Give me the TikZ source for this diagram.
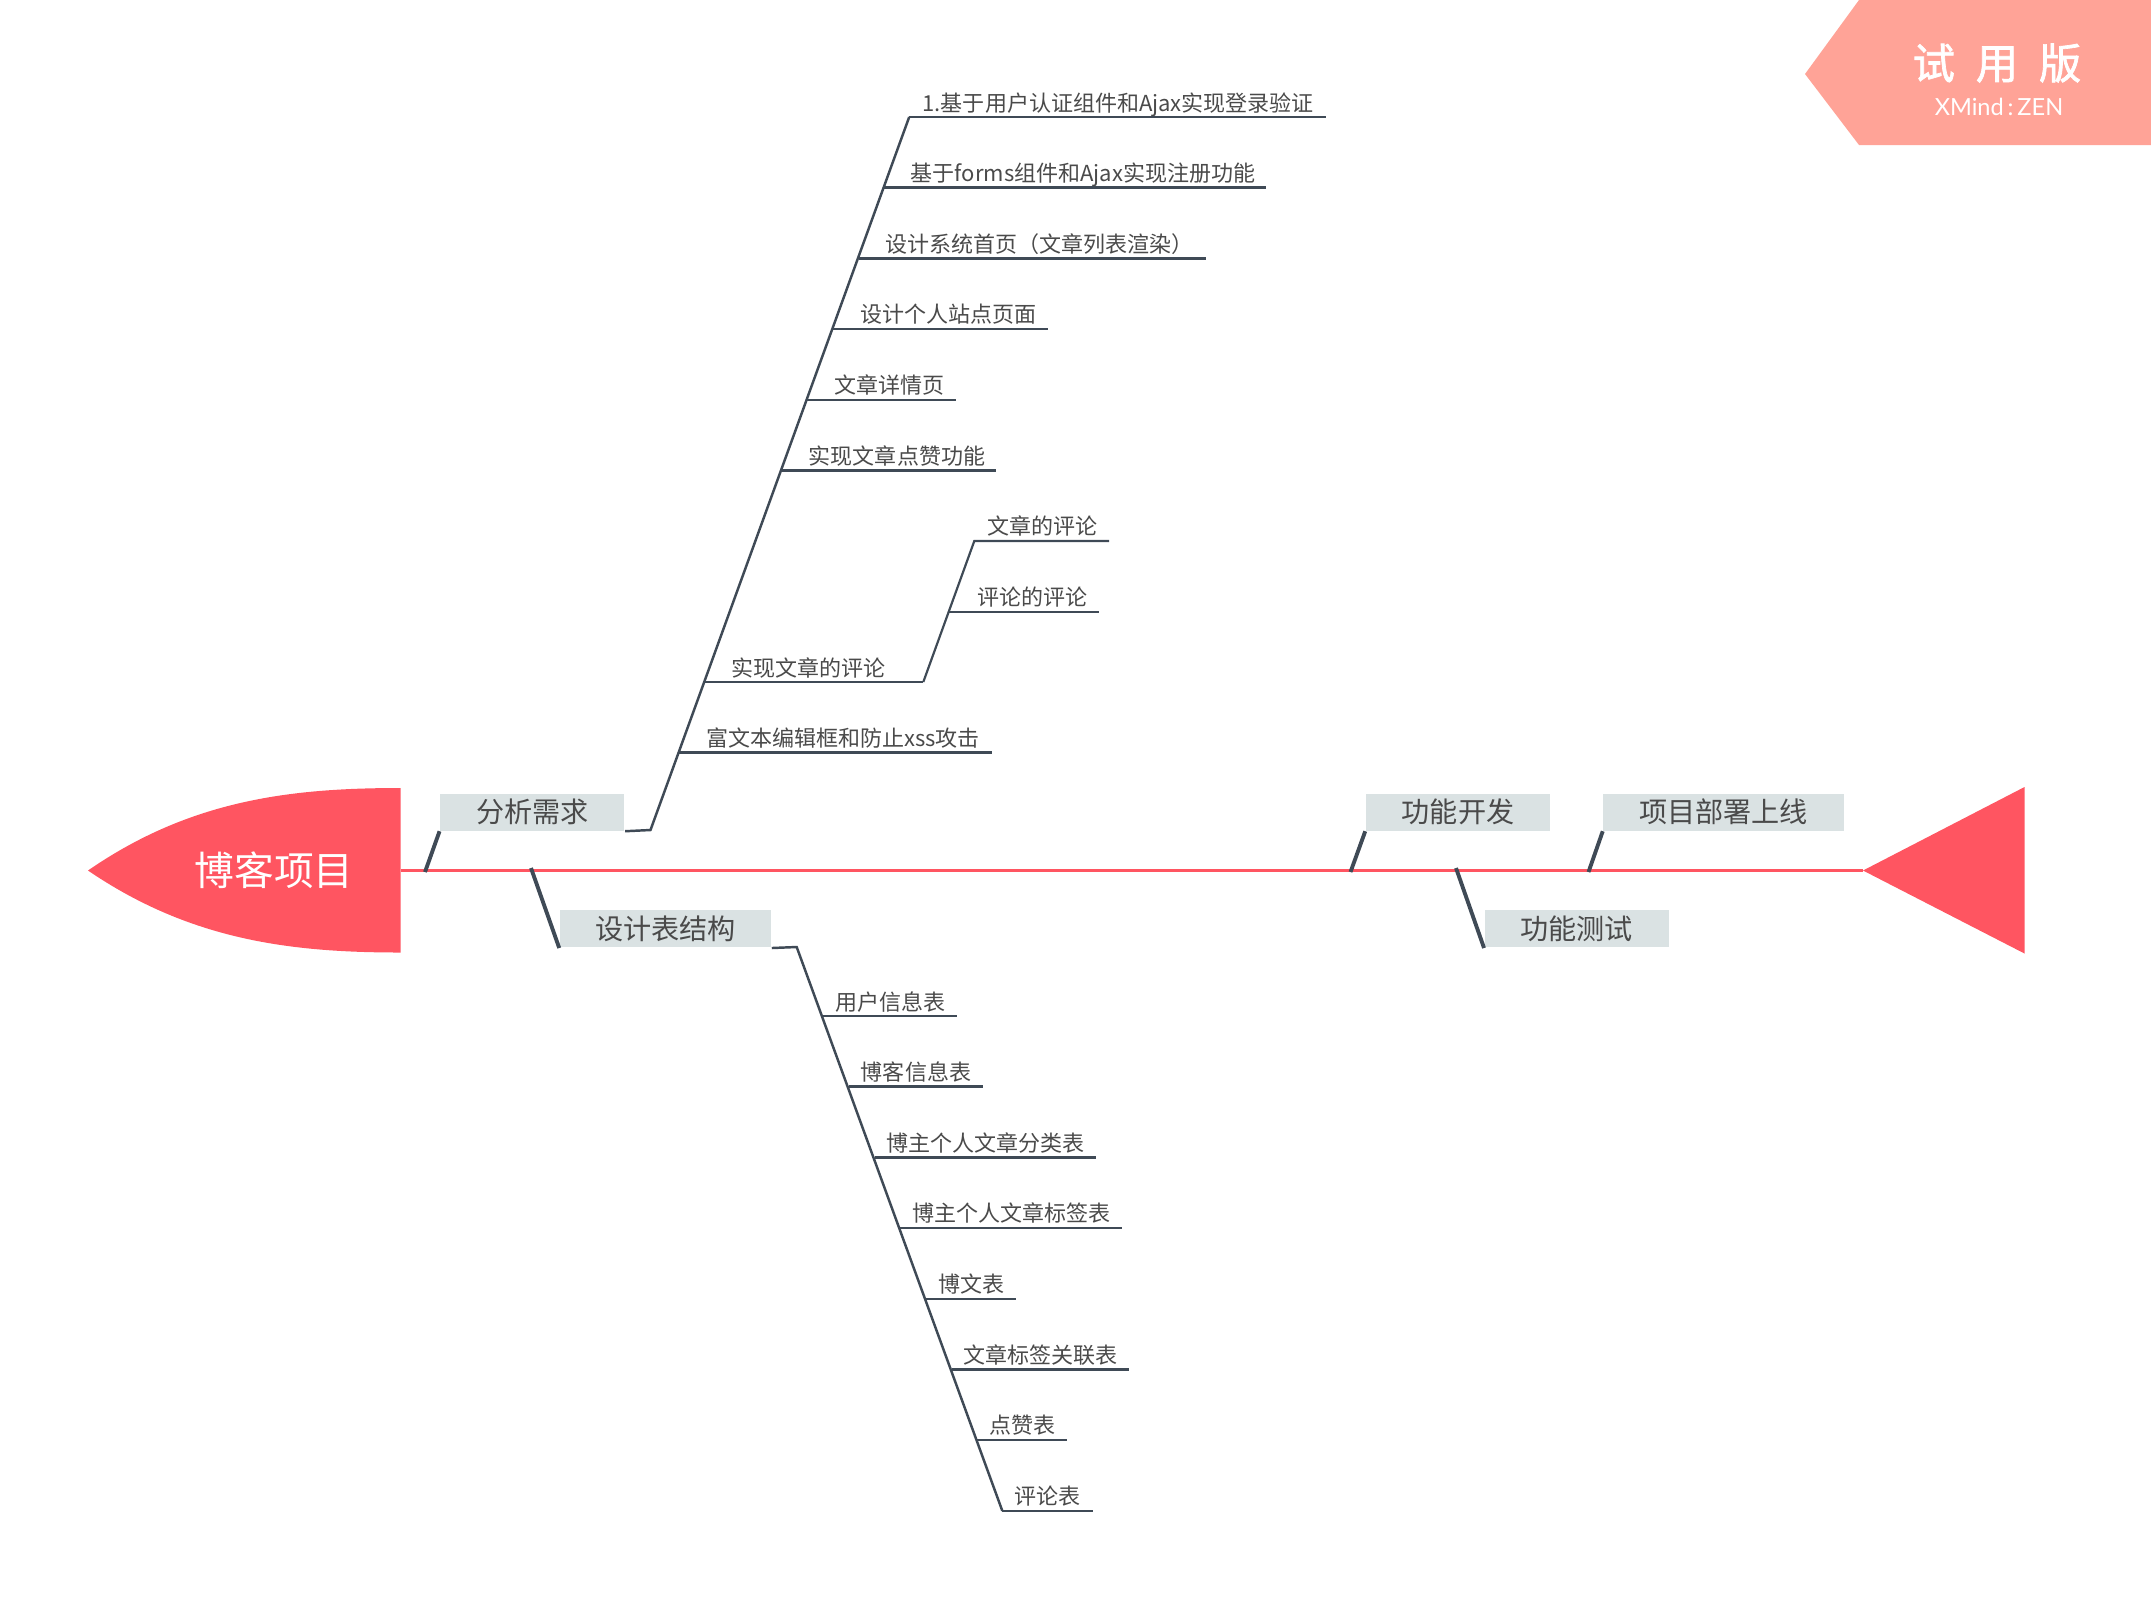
\documentclass[tikz,border=0pt]{standalone}
\usepackage{fontspec}
\setmainfont{Noto Sans CJK SC}
\newfontfamily\markfont{Lato}
\newfontfamily\markcjk[FakeBold=1.6]{Noto Sans CJK SC}
\definecolor{headred}{HTML}{FF5561}
\definecolor{markred}{HTML}{FFA397}
\definecolor{boxgray}{HTML}{DAE2E3}
\definecolor{linegray}{HTML}{3F4A56}
\definecolor{textgray}{HTML}{4A4A4A}
\tikzset{
  topic/.style={fill=boxgray, text=textgray, inner sep=0pt, minimum height=.37cm, font=\fontsize{8}{9}\selectfont},
  leaf/.style={text=textgray, inner sep=0pt, text height=.17cm, text depth=0cm, font=\fontsize{6.26}{8}\selectfont},
  bone/.style={draw=linegray, line width=1.1pt},
  rib/.style={draw=linegray, line width=.7pt, line join=miter},
  twig/.style={draw=linegray, line width=.62pt},
}
\begin{document}
\begin{tikzpicture}[x=.01cm,y=-.01cm]
\useasboundingbox (0,0) rectangle (2151,1599);
% trial mark
\fill[markred] (1859,0) -- (2151,0) -- (2151,145) -- (1859,145) -- (1805,74) -- cycle;
\node[text=white, inner sep=0pt, font=\markcjk\fontsize{12}{14}\selectfont] (marktop) at (1997,63) {试\hspace{.21cm}用\hspace{.21cm}版};
\node[text=white, inner sep=0pt, font=\markfont\fontsize{6.7}{8}\selectfont] (markbot) at (1999,106.5) {XMind\,:\,ZEN};
% head and tail
\fill[headred] (88,870.5) .. controls (190,800) and (290,788) .. (400.5,788) -- (400.5,952.5)
	.. controls (290,952.5) and (190,940) .. (88,870.5) -- cycle;
\fill[headred] (1863,870.5) -- (2024.5,787) -- (2024.5,953.5) -- cycle;
\node[text=white, inner sep=0pt, font=\fontsize{11.3}{13}\selectfont] (root) at (274,870) {博客项目};
\coordinate (spinea) at (400.5,870.5);
\coordinate (spineb) at (1863,870.5);
\draw[headred, line width=.7pt] (spinea) -- (spineb);
% main topics
\node[topic, minimum width=1.84cm] (ana) at (532.3,812) {分析需求};
\node[topic, minimum width=2.11cm] (tab) at (665.5,928.8) {设计表结构};
\node[topic, minimum width=1.84cm] (dev) at (1458,812) {功能开发};
\node[topic, minimum width=1.84cm] (tst) at (1576.8,928.8) {功能测试};
\node[topic, minimum width=2.40cm] (dep) at (1723.5,812) {项目部署上线};
\coordinate (anab) at (425,872);
\coordinate (tabb) at (531,868);
\coordinate (devb) at (1350.5,872);
\coordinate (tstb) at (1456,868);
\coordinate (depb) at (1588.5,872);
\draw[bone] (anab) -- (ana.south west);
\draw[bone] (tabb) -- (tab.south west);
\draw[bone] (devb) -- (dev.south west);
\draw[bone] (tstb) -- (tst.south west);
\draw[bone] (depb) -- (dep.south west);
% upper rib
\coordinate (anac) at (650.5,830);
\coordinate (anat) at (909.2,117);
\draw[rib] (ana.south east) -- (anac) -- (anat);
\node[leaf] (u1) at (1118.3,102.5) {1.基于用户认证组件和Ajax实现登录验证};
\node[leaf] (u2) at (1083,172.5) {基于forms组件和Ajax实现注册功能};
\node[leaf] (u3) at (1039.5,243.5) {设计系统首页（文章列表渲染）};
\node[leaf] (u4) at (948.5,314) {设计个人站点页面};
\node[leaf] (u5) at (889.5,385) {文章详情页};
\node[leaf] (u6) at (897,455.5) {实现文章点赞功能};
\node[leaf] (u7) at (808.5,667.5) {实现文章的评论};
\node[leaf] (u8) at (843,737.5) {富文本编辑框和防止xss攻击};
\coordinate (u1b) at (1326,117);
\coordinate (u2a) at (883.7,187.5);
\coordinate (u2b) at (1266,187.5);
\coordinate (u3a) at (858.5,258.5);
\coordinate (u3b) at (1205.5,258.5);
\coordinate (u4a) at (833,329);
\coordinate (u4b) at (1047.5,329);
\coordinate (u5a) at (807,400);
\coordinate (u5b) at (956,400);
\coordinate (u6a) at (781.5,470.5);
\coordinate (u6b) at (996,470.5);
\coordinate (u7a) at (705,682);
\coordinate (u7b) at (923.3,682);
\coordinate (u8a) at (679,752.5);
\coordinate (u8b) at (992.3,752.5);
\draw[twig] (anat) -- (u1b);
\draw[twig] (u2a) -- (u2b);
\draw[twig] (u3a) -- (u3b);
\draw[twig] (u4a) -- (u4b);
\draw[twig] (u5a) -- (u5b);
\draw[twig] (u6a) -- (u6b);
\draw[twig] (u7a) -- (u7b);
\draw[twig] (u8a) -- (u8b);
% comments on comments
\node[leaf] (c1) at (1042.2,526) {文章的评论};
\node[leaf] (c2) at (1032.2,597) {评论的评论};
\coordinate (c1a) at (974.3,541);
\coordinate (c1b) at (1109,541);
\coordinate (c2a) at (949.3,611.7);
\coordinate (c2b) at (1099,611.7);
\draw[twig] (u7b) -- (c1a) -- (c1b);
\draw[twig] (c2a) -- (c2b);
% lower rib
\coordinate (tabc) at (796.7,947);
\coordinate (tabt) at (1002.3,1510.8);
\draw[rib] (tab.south east) -- (tabc) -- (tabt);
\node[leaf] (d1) at (890.2,1001.5) {用户信息表};
\node[leaf] (d2) at (916,1071.5) {博客信息表};
\node[leaf] (d3) at (985.5,1142.5) {博主个人文章分类表};
\node[leaf] (d4) at (1011.3,1213) {博主个人文章标签表};
\node[leaf] (d5) at (971.3,1283.5) {博文表};
\node[leaf] (d6) at (1040.5,1354.5) {文章标签关联表};
\node[leaf] (d7) at (1022.3,1425) {点赞表};
\node[leaf] (d8) at (1047.8,1495.5) {评论表};
\coordinate (d1a) at (823.3,1016);
\coordinate (d1b) at (956.7,1016);
\coordinate (d2a) at (849,1086.5);
\coordinate (d2b) at (982.7,1086.5);
\coordinate (d3a) at (875,1157.5);
\coordinate (d3b) at (1096.3,1157.5);
\coordinate (d4a) at (900,1228);
\coordinate (d4b) at (1122.3,1228);
\coordinate (d5a) at (926,1298.8);
\coordinate (d5b) at (1015.7,1298.8);
\coordinate (d6a) at (951.7,1369.5);
\coordinate (d6b) at (1129.3,1369.5);
\coordinate (d7a) at (977.3,1440.2);
\coordinate (d7b) at (1067.3,1440.2);
\coordinate (d8b) at (1092.7,1510.8);
\draw[twig] (d1a) -- (d1b);
\draw[twig] (d2a) -- (d2b);
\draw[twig] (d3a) -- (d3b);
\draw[twig] (d4a) -- (d4b);
\draw[twig] (d5a) -- (d5b);
\draw[twig] (d6a) -- (d6b);
\draw[twig] (d7a) -- (d7b);
\draw[twig] (tabt) -- (d8b);
\end{tikzpicture}
\end{document}
